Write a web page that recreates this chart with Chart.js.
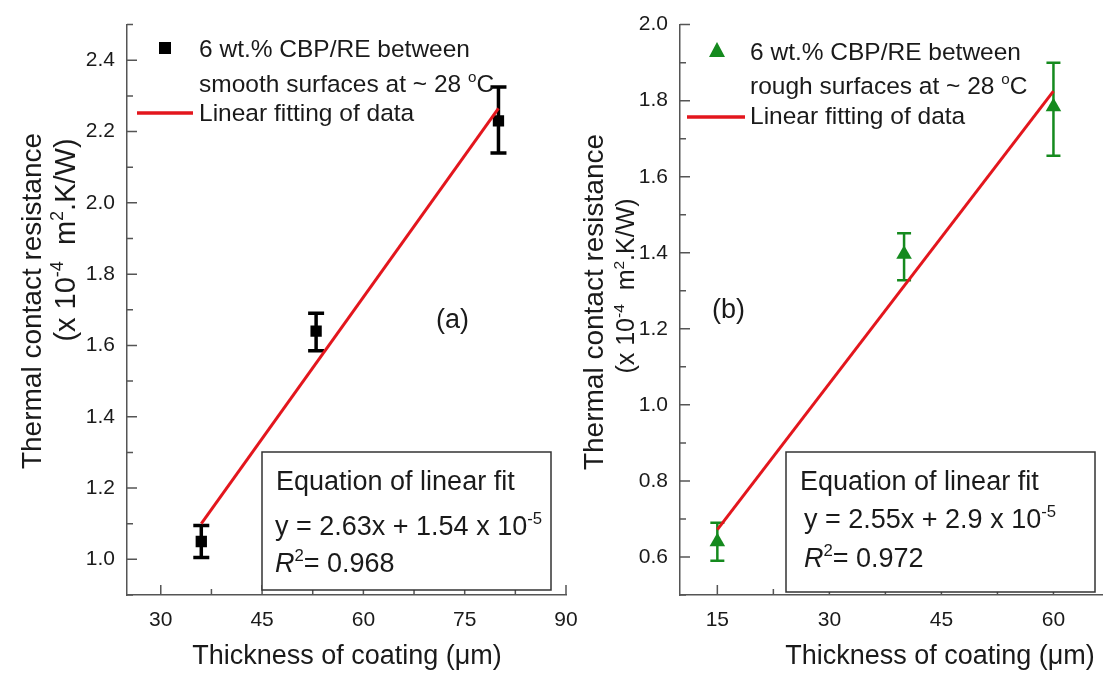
<!DOCTYPE html>
<html lang="en">
<head>
<meta charset="UTF-8" />
<script src="https://cdn.jsdelivr.net/npm/chart.js@4.4.1/dist/chart.umd.min.js"></script>
<title>Thermal contact resistance vs coating thickness</title>
<style>
  body { margin: 0; background: #fff; width: 1111px; height: 673px; overflow: hidden; position: relative; }
  .panel { position: absolute; top: 0; height: 673px; }
</style>
</head>
<body>
<div class="panel" style="left:0;width:620px"><canvas id="chartA"></canvas></div>
<div class="panel" style="left:560px;width:551px"><canvas id="chartB"></canvas></div>
<script>
// (a) smooth surfaces
const thickA = [36, 53, 80];
const resA = [1.05, 1.64, 2.23];
const errLowA = [1.005, 1.585, 2.14];
const errHighA = [1.095, 1.69, 2.325];
const fitXA = [36, 80];
const fitYA = [1.10, 2.265];
const xTicksA = [30, 45, 60, 75, 90];
const yTicksA = [1.0, 1.2, 1.4, 1.6, 1.8, 2.0, 2.2, 2.4];

// (b) rough surfaces
const thickB = [15, 40, 60];
const resB = [0.64, 1.396, 1.784];
const errLowB = [0.59, 1.328, 1.655];
const errHighB = [0.69, 1.451, 1.90];
const fitXB = [15, 60];
const fitYB = [0.672, 1.825];
const xTicksB = [15, 30, 45, 60];
const yTicksB = [0.6, 0.8, 1.0, 1.2, 1.4, 1.6, 1.8, 2.0];

const FONT = '"Liberation Sans", Arial, sans-serif';
const RED = "#e3161d";
const GREEN = "#158a1e";
const AXIS = "#555";
const TXT = "#1a1a1a";
Chart.defaults.font.family = FONT;

function partsWidth(ctx, parts, size) {
  let w = 0;
  for (const p of parts) {
    ctx.font = (p.it ? "italic " : "") + (p.sup ? size * 0.62 : size) + "px " + FONT;
    w += ctx.measureText(p.t).width;
  }
  return w;
}
function drawParts(ctx, parts, x, y, size) {
  let cx = x;
  for (const p of parts) {
    ctx.font = (p.it ? "italic " : "") + (p.sup ? size * 0.62 : size) + "px " + FONT;
    ctx.fillText(p.t, cx, p.sup ? y - size * 0.42 : y);
    cx += ctx.measureText(p.t).width;
  }
}
function drawRotated(ctx, parts, bx, cy, size) {
  ctx.save();
  ctx.translate(bx, cy);
  ctx.rotate(-Math.PI / 2);
  const w = partsWidth(ctx, parts, size);
  drawParts(ctx, parts, -w / 2, 0, size);
  ctx.restore();
}

const yTitle1 = [{ t: "Thermal contact resistance" }];
const yTitle2 = [{ t: "(x 10" }, { t: "-4", sup: true }, { t: "  m" }, { t: "2", sup: true }, { t: ".K/W)" }];
const xTitle = [{ t: "Thickness of coating (\u03bcm)" }];

// error bars drawn from the data arrays through the scales
const errorBars = {
  id: "errorBars",
  beforeDatasetsDraw(chart, args, o) {
    const { ctx, scales: { x, y } } = chart;
    ctx.save();
    ctx.strokeStyle = o.color;
    ctx.lineWidth = o.width;
    o.xs.forEach((v, i) => {
      const px = x.getPixelForValue(v);
      const lo = y.getPixelForValue(o.low[i]);
      const hi = y.getPixelForValue(o.high[i]);
      ctx.beginPath();
      ctx.moveTo(px, lo); ctx.lineTo(px, hi);
      ctx.moveTo(px - o.cap, lo); ctx.lineTo(px + o.cap, lo);
      ctx.moveTo(px - o.cap, hi); ctx.lineTo(px + o.cap, hi);
      ctx.stroke();
    });
    ctx.restore();
  }
};

const decor = {
  id: "decor",
  afterDraw(chart, args, o) {
    const { ctx, scales: { x, y }, chartArea: a } = chart;
    ctx.save();
    // inward tick marks, major + minor
    ctx.strokeStyle = AXIS;
    ctx.lineWidth = 1.5;
    const marks = (scale, horiz) => {
      const vals = scale.ticks.map(t => t.value);
      const half = (vals[1] - vals[0]) / 2;
      const minors = [];
      for (let v = vals[0] - half; v <= scale.max + 1e-9; v += 2 * half) if (v >= scale.min - 1e-9) minors.push(v);
      ctx.beginPath();
      vals.forEach(v => {
        const p = scale.getPixelForValue(v);
        if (horiz) { ctx.moveTo(p, a.bottom); ctx.lineTo(p, a.bottom - 10); }
        else { ctx.moveTo(a.left, p); ctx.lineTo(a.left + 10, p); }
      });
      minors.forEach(v => {
        const p = scale.getPixelForValue(v);
        if (horiz) { ctx.moveTo(p, a.bottom); ctx.lineTo(p, a.bottom - 6); }
        else { ctx.moveTo(a.left, p); ctx.lineTo(a.left + 6, p); }
      });
      ctx.stroke();
    };
    marks(x, true);
    marks(y, false);

    ctx.fillStyle = TXT;
    ctx.textBaseline = "alphabetic";
    // axis titles
    drawRotated(ctx, yTitle1, o.yt1[0], o.yt1[1], 28);
    drawRotated(ctx, yTitle2, o.yt2[0], o.yt2[1], o.yt2[2]);
    const tw = partsWidth(ctx, xTitle, 27);
    drawParts(ctx, xTitle, o.xt[0] - tw / 2, o.xt[1], 27);

    // legend
    const L = o.legend;
    ctx.fillStyle = L.color;
    if (L.marker === "rect") {
      ctx.fillRect(L.mx - 6, L.my - 6, 12, 12);
    } else {
      ctx.beginPath();
      ctx.moveTo(L.mx, L.my - 9);
      ctx.lineTo(L.mx + 8, L.my + 6);
      ctx.lineTo(L.mx - 8, L.my + 6);
      ctx.closePath();
      ctx.fill();
    }
    ctx.fillStyle = TXT;
    drawParts(ctx, [{ t: "6 wt.% CBP/RE between" }], L.tx, L.b1, 24.5);
    drawParts(ctx, [{ t: L.line2 }, { t: "o", sup: true }, { t: "C" }], L.tx, L.b2, 24.5);
    ctx.strokeStyle = RED;
    ctx.lineWidth = 3.5;
    ctx.beginPath();
    ctx.moveTo(L.l0, L.ly); ctx.lineTo(L.l1, L.ly);
    ctx.stroke();
    drawParts(ctx, [{ t: "Linear fitting of data" }], L.tx, L.b3, 24.5);

    // equation box
    const B = o.box;
    ctx.fillStyle = "#fff";
    ctx.fillRect(B.x0, B.y0, B.x1 - B.x0, B.y1 - B.y0);
    ctx.strokeStyle = "#333";
    ctx.lineWidth = 1.5;
    ctx.strokeRect(B.x0, B.y0, B.x1 - B.x0, B.y1 - B.y0);
    ctx.fillStyle = TXT;
    drawParts(ctx, [{ t: "Equation of linear fit" }], B.tx, B.b1, 27);
    drawParts(ctx, [{ t: B.eq }, { t: "-5", sup: true }], B.tx2, B.b2, 27);
    drawParts(ctx, [{ t: "R", it: true }, { t: "2", sup: true }, { t: "= " + B.r2 }], B.tx2, B.b3, 27);

    // panel label
    drawParts(ctx, [{ t: o.label[0] }], o.label[1], o.label[2], 27);
    ctx.restore();
  }
};

function makeChart(id, c) {
  return new Chart(document.getElementById(id), {
    data: {
      datasets: [
        {
          type: "line",
          data: c.fitX.map((v, i) => ({ x: v, y: c.fitY[i] })),
          borderColor: RED,
          borderWidth: 3,
          pointRadius: 0,
          fill: false,
          order: 0
        },
        {
          type: "scatter",
          data: c.xs.map((v, i) => ({ x: v, y: c.ys[i] })),
          pointStyle: c.style,
          pointRadius: c.radius,
          backgroundColor: c.color,
          borderColor: c.color,
          borderWidth: 0,
          order: 1
        }
      ]
    },
    options: {
      responsive: true,
      maintainAspectRatio: false,
      animation: false,
      layout: { padding: { top: 21, right: c.padRight, left: 0, bottom: 0 } },
      plugins: {
        legend: { display: false },
        tooltip: { enabled: false },
        errorBars: c.err,
        decor: c.decor
      },
      scales: {
        x: {
          type: "linear",
          min: c.xMin,
          max: c.xMax,
          afterBuildTicks: s => { s.ticks = c.xTicks.map(v => ({ value: v })); },
          afterFit: s => { s.height = 78; },
          grid: { display: false, drawTicks: false },
          border: { display: true, color: AXIS, width: 1.5 },
          ticks: { padding: 13, color: TXT, font: { size: 21 }, callback: v => String(v) }
        },
        y: {
          type: "linear",
          min: c.yMin,
          max: c.yMax,
          afterBuildTicks: s => { s.ticks = c.yTicks.map(v => ({ value: v })); },
          afterFit: s => { s.width = c.yWidth; },
          grid: { display: false, drawTicks: false },
          border: { display: true, color: AXIS, width: 1.5 },
          ticks: { padding: 12, color: TXT, font: { size: 21 }, callback: v => v.toFixed(1) }
        }
      }
    },
    plugins: [errorBars, decor]
  });
}

makeChart("chartA", {
  xs: thickA, ys: resA, fitX: fitXA, fitY: fitYA,
  xTicks: xTicksA, yTicks: yTicksA,
  xMin: 25, xMax: 90, yMin: 0.9, yMax: 2.5,
  yWidth: 127, padRight: 54,
  style: "rect", radius: 8, color: "#000",
  err: { xs: thickA, low: errLowA, high: errHighA, color: "#000", width: 3.5, cap: 8 },
  decor: {
    yt1: [41, 301], yt2: [75, 240, 29], xt: [347, 664],
    legend: { marker: "rect", color: "#000", mx: 165, my: 48, tx: 199, b1: 57, b2: 92,
      line2: "smooth surfaces at ~ 28 ", l0: 137, l1: 193, ly: 113, b3: 121 },
    box: { x0: 262, y0: 452, x1: 551, y1: 590, tx: 276, tx2: 275, b1: 490, b2: 535, b3: 572,
      eq: "y = 2.63x + 1.54 x 10", r2: "0.968" },
    label: ["(a)", 436, 328]
  }
});

makeChart("chartB", {
  xs: thickB, ys: resB, fitX: fitXB, fitY: fitYB,
  xTicks: xTicksB, yTicks: yTicksB,
  xMin: 10, xMax: 66.5, yMin: 0.5, yMax: 2.0,
  yWidth: 120, padRight: 0,
  style: "triangle", radius: 9, color: GREEN,
  err: { xs: thickB, low: errLowB, high: errHighB, color: GREEN, width: 2.5, cap: 7 },
  decor: {
    yt1: [43, 302], yt2: [74, 286, 25], xt: [380, 664],
    legend: { marker: "triangle", color: GREEN, mx: 157, my: 51, tx: 190, b1: 60, b2: 94,
      line2: "rough surfaces at ~ 28 ", l0: 127, l1: 185, ly: 117, b3: 124 },
    box: { x0: 226, y0: 452, x1: 535, y1: 592, tx: 240, tx2: 244, b1: 490, b2: 528, b3: 567,
      eq: "y = 2.55x + 2.9 x 10", r2: "0.972" },
    label: ["(b)", 152, 318]
  }
});
</script>
</body>
</html>
